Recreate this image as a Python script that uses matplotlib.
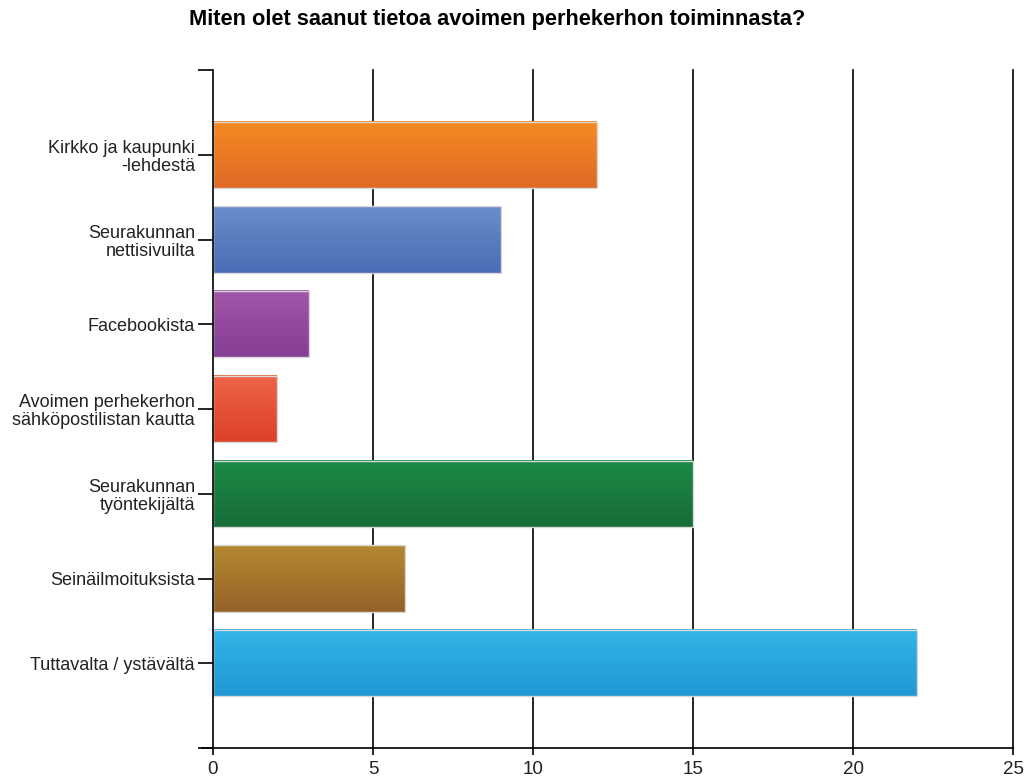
import numpy as np
import matplotlib
matplotlib.use("Agg")
import matplotlib.pyplot as plt
from matplotlib.colors import LinearSegmentedColormap

plt.rcParams['font.family'] = ['Liberation Sans', 'DejaVu Sans']

title = "Miten olet saanut tietoa avoimen perhekerhon toiminnasta?"
categories = [
    "Kirkko ja kaupunki\n-lehdestä",
    "Seurakunnan\nnettisivuilta",
    "Facebookista",
    "Avoimen perhekerhon\nsähköpostilistan kautta",
    "Seurakunnan\ntyöntekijältä",
    "Seinäilmoituksista",
    "Tuttavalta / ystävältä",
]
values = [12, 9, 3, 2, 15, 6, 22]
top_colors = ["#F58A22", "#6A8DCB", "#A257A9", "#EE6446", "#1C8A47", "#B58931", "#35B5E8"]
bottom_colors = ["#DF6A26", "#4A6DB6", "#853E94", "#DC4128", "#176C38", "#946228", "#1F98D4"]
xticks = [0, 5, 10, 15, 20, 25]

fig = plt.figure(figsize=(10.3, 7.8), dpi=100)
ax = fig.add_axes([213/1030, 1-748/780, 800/1030, 678/780])

n = len(categories)
ypos = np.arange(n)
h = 0.78
grad = np.linspace(0, 1, 256).reshape(-1, 1)
for y, v, ct, cb in zip(ypos, values, top_colors, bottom_colors):
    cmap = LinearSegmentedColormap.from_list("g", [ct, cb])
    ax.imshow(grad, cmap=cmap, aspect='auto', extent=[0, v, y + h/2, y - h/2],
              zorder=3, interpolation='bilinear')
    ax.add_patch(plt.Rectangle((0, y - h/2), v, h, fill=False,
                               edgecolor="#D8D8D8", lw=1.0, zorder=4))

ax.set_xlim(0, 25)
ax.set_ylim(n, -1)

for x in xticks[1:]:
    ax.axvline(x, color="black", lw=1.2, zorder=1, clip_on=False)

for s in ["top", "right"]:
    ax.spines[s].set_visible(False)
ax.spines["left"].set_linewidth(1.2)
ax.spines["bottom"].set_linewidth(1.2)
ax.spines["bottom"].set_bounds(-0.34, 25)
ax.spines["bottom"].set_zorder(5)
ax.spines["left"].set_zorder(5)

ax.set_xticks(xticks)
ax.set_xticklabels([str(t) for t in xticks], fontsize=13.5, color="#222222")
ax.tick_params(axis='x', length=5, width=1.2, pad=4)

ax.set_yticks(list(np.arange(-1, n + 1)))
ax.set_yticklabels([""] + categories + [""], fontsize=13, color="#222222",
                   linespacing=1.1)
ax.tick_params(axis='y', length=11, width=1.2, pad=2)

ax.spines["bottom"].set_clip_on(False)

fig.text(0.483, 1 - 19/780, title, ha='center', va='center', fontsize=15.7,
         fontweight='bold', color="black")

fig.savefig("out.png", dpi=100)
